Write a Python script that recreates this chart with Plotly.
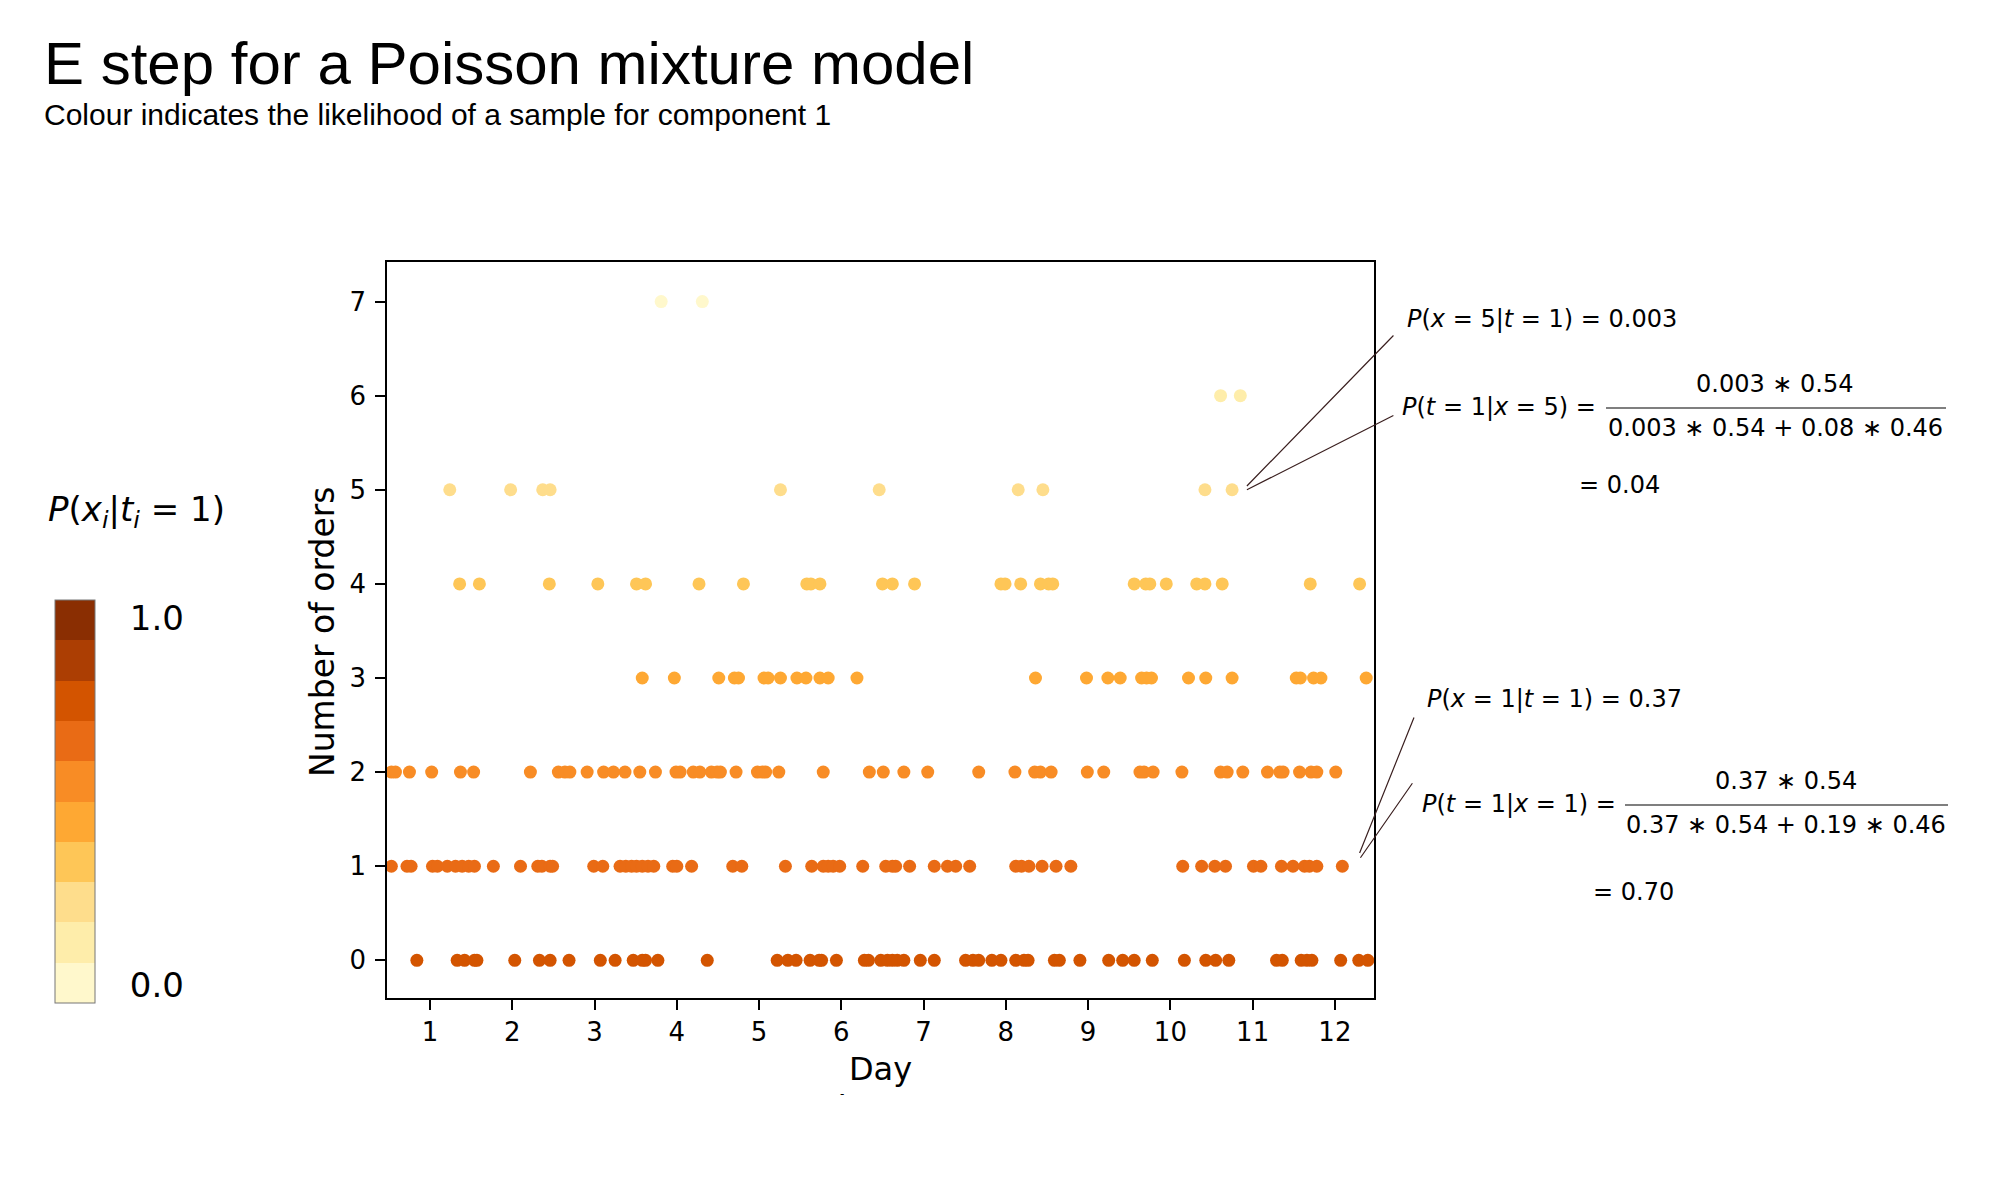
import plotly.graph_objects as go

# days on which each number of orders was seen
days_0_orders = [0.84, 1.33, 1.42, 1.54, 1.57, 2.03, 2.33, 2.46, 2.69, 3.07, 3.25, 3.47, 3.58, 3.62, 3.77,
                 4.37, 5.22, 5.35, 5.45, 5.62, 5.73, 5.76, 5.94, 6.28, 6.33, 6.48, 6.56, 6.62, 6.68, 6.76,
                 6.96, 7.13, 7.51, 7.60, 7.67, 7.83, 7.94, 8.12, 8.22, 8.27, 8.59, 8.65, 8.90, 9.25, 9.42,
                 9.56, 9.78, 10.17, 10.43, 10.55, 10.71, 11.29, 11.36, 11.59, 11.66, 11.72, 12.07, 12.29, 12.40]
days_1_orders = [0.53, 0.72, 0.77, 1.03, 1.09, 1.21, 1.31, 1.39, 1.47, 1.54, 1.77, 2.10, 2.31, 2.36, 2.46,
                 2.49, 2.99, 3.10, 3.31, 3.38, 3.45, 3.51, 3.58, 3.65, 3.72, 3.95, 4.00, 4.18, 4.68, 4.79,
                 5.32, 5.64, 5.78, 5.84, 5.90, 5.98, 6.26, 6.54, 6.62, 6.66, 6.83, 7.13, 7.29, 7.39, 7.56,
                 8.12, 8.19, 8.28, 8.44, 8.61, 8.79, 10.15, 10.38, 10.54, 10.67, 11.01, 11.10, 11.35, 11.49,
                 11.63, 11.69, 11.78, 12.09]
days_2_orders = [0.53, 0.58, 0.75, 1.02, 1.37, 1.53, 2.22, 2.56, 2.64, 2.70, 2.91, 3.11, 3.23, 3.37, 3.55,
                 3.74, 3.99, 4.04, 4.20, 4.28, 4.42, 4.49, 4.53, 4.72, 4.98, 5.04, 5.08, 5.24, 5.78, 6.34,
                 6.51, 6.76, 7.05, 7.67, 8.11, 8.35, 8.42, 8.55, 8.99, 9.19, 9.63, 9.68, 9.79, 10.14, 10.61,
                 10.69, 10.88, 11.18, 11.33, 11.37, 11.57, 11.71, 11.78, 12.01]
days_3_orders = [3.58, 3.97, 4.51, 4.70, 4.75, 5.06, 5.11, 5.26, 5.46, 5.57, 5.74, 5.84, 6.19, 8.36, 8.98,
                 9.24, 9.39, 9.65, 9.71, 9.77, 10.22, 10.43, 10.75, 11.53, 11.58, 11.74, 11.83, 12.38]
days_4_orders = [1.36, 1.60, 2.45, 3.04, 3.51, 3.62, 4.27, 4.81, 5.58, 5.63, 5.74, 6.50, 6.62, 6.89, 7.94,
                 7.99, 8.18, 8.42, 8.52, 8.57, 9.56, 9.70, 9.75, 9.95, 10.32, 10.42, 10.63, 11.70, 12.30]
days_5_orders = [1.24, 1.98, 2.37, 2.46, 5.26, 6.46, 8.15, 8.45, 10.42, 10.75]
days_6_orders = [10.61, 10.85]
days_7_orders = [3.81, 4.31]

# likelihood for component 1, one value per number of orders
likelihood_by_orders = [0.78, 0.67, 0.56, 0.44, 0.33, 0.22, 0.11, 0.0]

# YlOrBr, 10 bins, light to dark
bin_colours = ['#fff8cc', '#feedaa', '#fedd8c', '#fec657', '#fea833',
               '#f88c25', '#e96b15', '#d35400', '#ac3e03', '#8a2e02']

all_days = [days_0_orders, days_1_orders, days_2_orders, days_3_orders,
            days_4_orders, days_5_orders, days_6_orders, days_7_orders]

x, y, c = [], [], []
for orders, days in enumerate(all_days):
    x += days
    y += [orders] * len(days)
    c += [likelihood_by_orders[orders]] * len(days)

colorscale = []
for i, col in enumerate(bin_colours):
    colorscale.append([i / 10, col])
    colorscale.append([(i + 1) / 10, col])

# plot area in pixels, used to place the texts around it
PLOT_L, PLOT_R, PLOT_T, PLOT_B = 387, 1374, 262, 998
PAGE_OFFSET = 8  # the page body margin shifts the figure


def px(v):
    return (v - PLOT_L) / (PLOT_R - PLOT_L)


def py(v):
    return (PLOT_B - v) / (PLOT_B - PLOT_T)


MATH = 'DejaVu Sans'

fig = go.Figure()
fig.add_trace(go.Scatter(
    x=x, y=y, mode='markers',
    marker=dict(size=13, color=c, colorscale=colorscale, cmin=-0.05, cmax=1.05,
                showscale=True,
                colorbar=dict(x=px(55), xanchor='left', xpad=0,
                              y=py(1003), yanchor='bottom', ypad=0,
                              thickness=40, len=403, lenmode='pixels',
                              outlinewidth=1, outlinecolor='#777777',
                              tickvals=[0, 1], ticktext=['0.0', '1.0'],
                              ticks='outside', ticklen=28, tickcolor='rgba(0,0,0,0)',
                              tickfont=dict(family=MATH, size=34, color='black'))),
    showlegend=False, hoverinfo='skip'))

fig.update_layout(
    width=2000, height=1200,
    margin=dict(l=PLOT_L - PAGE_OFFSET, r=2000 - PLOT_R + PAGE_OFFSET,
                t=PLOT_T - PAGE_OFFSET, b=1200 - PLOT_B + PAGE_OFFSET, autoexpand=False),
    paper_bgcolor='white', plot_bgcolor='white',
    font=dict(family=MATH, color='black'),
    xaxis=dict(range=[0.477, 12.475], tickvals=list(range(1, 13)), ticks='outside', ticklen=10,
               tickwidth=1.5, tickcolor='black', showline=True, linecolor='black', linewidth=1.5,
               mirror=True, showgrid=False, zeroline=False, tickfont=dict(size=26),
               ticklabelstandoff=0,
               title=dict(text='Day', font=dict(size=32), standoff=12)),
    yaxis=dict(range=[-0.40, 7.42], tickvals=list(range(0, 8)), ticks='outside', ticklen=10,
               tickwidth=1.5, tickcolor='black', showline=True, linecolor='black', linewidth=1.5,
               mirror=True, showgrid=False, zeroline=False, tickfont=dict(size=26),
               ticklabelstandoff=4),
)


def note(text, x0, y0, size=24, anchor='left', family=MATH, angle=0):
    fig.add_annotation(text=text, x=px(x0), y=py(y0), xref='paper', yref='paper',
                       xanchor=anchor, yanchor='middle', showarrow=False, textangle=angle,
                       font=dict(family=family, size=size, color='black'))


note('E step for a Poisson mixture model', 42, 63, size=60, family='Liberation Sans')
note('Colour indicates the likelihood of a sample for component 1', 42, 114, size=30,
     family='Liberation Sans')
note('<i>P</i>(<i>x<sub>i</sub></i>|<i>t<sub>i</sub></i> = 1)', 137, 511, size=34, anchor='center')
note('Number of orders', 322, 632, size=33, anchor='center', angle=-90)

note('<i>P</i>(<i>x</i> = 5|<i>t</i> = 1) = 0.003', 1405, 319)
note('<i>P</i>(<i>t</i> = 1|<i>x</i> = 5) =', 1400, 407)
note('0.003 ∗ 0.54', 1775, 384, anchor='center')
note('0.003 ∗ 0.54 + 0.08 ∗ 0.46', 1775, 428, anchor='center')
note('= 0.04', 1577, 485)

note('<i>P</i>(<i>x</i> = 1|<i>t</i> = 1) = 0.37', 1425, 699)
note('<i>P</i>(<i>t</i> = 1|<i>x</i> = 1) =', 1420, 804)
note('0.37 ∗ 0.54', 1786, 781, anchor='center')
note('0.37 ∗ 0.54 + 0.19 ∗ 0.46', 1786, 825, anchor='center')
note('= 0.70', 1591, 892)

note('-', 838, 1094, size=12)

# fraction bars
for x0, x1, yy in [(1606, 1946, 408), (1625, 1948, 805)]:
    fig.add_shape(type='line', xref='paper', yref='paper', x0=px(x0), x1=px(x1),
                  y0=py(yy), y1=py(yy), line=dict(color='black', width=1.2))

# leader lines from the samples to the formulas
for xd, yd, ax, ay in [(10.93, 5.04, 148, -152), (10.93, 5.0, 148, -75),
                       (12.30, 1.14, 55, -137), (12.31, 1.09, 53, -76)]:
    fig.add_annotation(x=xd, y=yd, xref='x', yref='y', text='', showarrow=True,
                       arrowhead=0, arrowwidth=1.2, arrowcolor='#3a1f1f',
                       ax=ax, ay=ay, standoff=0, startstandoff=0)

fig.write_html('out.html')
